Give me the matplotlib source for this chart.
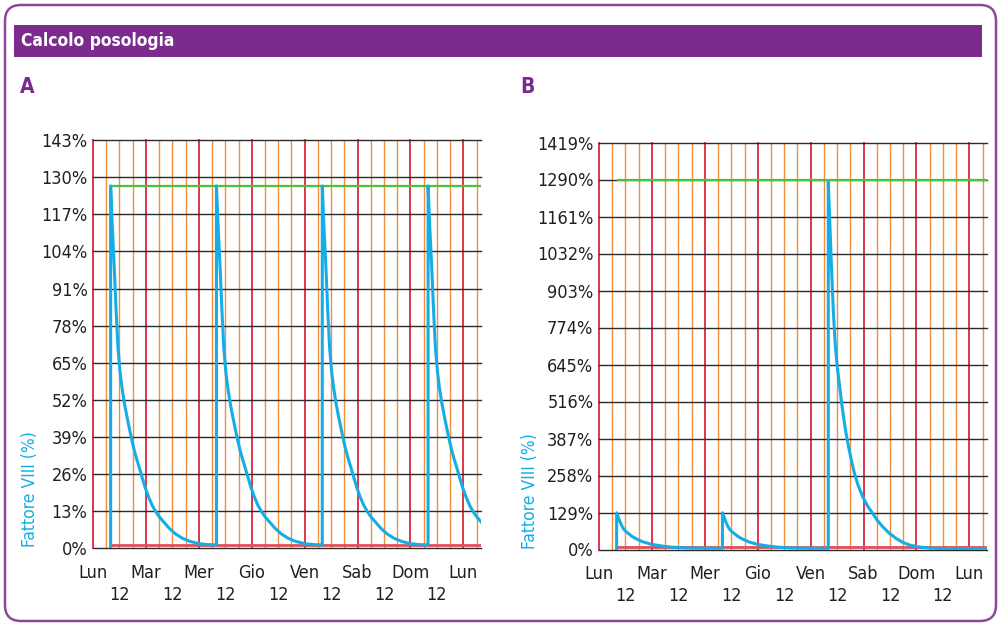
import matplotlib
matplotlib.use("Agg")
import matplotlib.pyplot as plt
from matplotlib import font_manager as fm
from matplotlib.patches import FancyBboxPatch, Rectangle

# ---- data -------------------------------------------------------------
day_labels = ["Lun", "Mar", "Mer", "Gio", "Ven", "Sab", "Dom", "Lun"]
day_hours = [0, 24, 48, 72, 96, 120, 144, 168]
noon_hours = [12, 36, 60, 84, 108, 132, 156]
noon_label = "12"
x_max_hours = 176
grid_step_hours = 6

a_ticks = [0, 13, 26, 39, 52, 65, 78, 91, 104, 117, 130, 143]
b_ticks = [0, 129, 258, 387, 516, 645, 774, 903, 1032, 1161, 1290, 1419]

# panel A: four equal infusions every 48 h (hours after infusion, % activity)
a_dose_hours = [8, 56, 104, 152]
a_decay_h = [0, 0.8, 1.7, 2.5, 3.35, 4.3, 5.2, 6.2, 7.3, 8.5, 9.6, 10.7, 11.8,
             13.0, 14.3, 15.7, 17.3, 19.0, 20.5, 22.1, 24.0, 26.6, 29.5, 32.6,
             36.0, 40.2, 44.0, 48.0]
a_decay_pct = [127, 112, 97.6, 83, 70, 61.5, 56, 51, 46.5, 42, 38, 34.4, 31.3,
               28.3, 24.8, 21.2, 17.8, 14.8, 12.8, 11.0, 9.3, 7.0, 5.0, 3.5,
               2.4, 1.6, 1.3, 1.2]
a_target_pct = 127
a_threshold_pct = 1.2

# panel B: two small infusions followed by one large one
b_dose_hours = [8, 56, 104]
b_low_decay_h = [0, 0.8, 1.5, 2.3, 3.2, 4.1, 5.0, 6.9, 9.2, 11.8, 15.6, 20.1,
                 24.6, 30.7, 36.7, 42.0, 48.0]
b_low_decay_pct = [128, 112, 97, 83, 71, 63.5, 58, 46, 36, 27, 18.5, 12.6,
                   8.5, 5.5, 4.5, 4.2, 4.0]
b_high_decay_h = [0, 0.8, 1.5, 2.3, 3.2, 4.1, 5.0, 5.9, 6.9, 8.0, 9.2, 10.5,
                  11.8, 13.6, 15.6, 17.8, 20.1, 22.3, 24.6, 27.5, 30.7, 33.5,
                  36.7, 41.0, 45.8, 50.0, 56.0, 64.0, 72.0]
b_high_decay_pct = [1280, 1120, 974, 830, 710, 635, 580, 520, 463, 408, 358,
                    310, 268, 222, 184, 152, 126, 101, 80, 58, 39, 26, 16, 9,
                    5, 3.5, 3, 2.5, 2]
b_target_pct = 1288
b_threshold_pct = 10

# ---- style ------------------------------------------------------------
PURPLE = "#7b2a8e"
BLUE = "#14ade6"
RED = "#d9283a"
ORANGE = "#f28226"
GREEN = "#4cc23c"
TEXT = "#231f20"

_cond = fm.findfont(fm.FontProperties(family="DejaVu Sans", stretch="condensed"))
if "Condensed" in _cond:
    plt.rcParams["font.family"] = ["DejaVu Sans"]
    plt.rcParams["font.stretch"] = "condensed"
else:
    plt.rcParams["font.family"] = ["Liberation Sans", "DejaVu Sans"]

W, H = 999, 627
fig = plt.figure(figsize=(W / 100, H / 100), dpi=100)
fig.patch.set_facecolor("white")

# pixel-space layer for the frame, header and panel letters
bg = fig.add_axes([0, 0, 1, 1], zorder=0)
bg.set_xlim(0, W)
bg.set_ylim(H, 0)
bg.axis("off")
bg.add_patch(FancyBboxPatch((5, 5), 991, 616,
                            boxstyle="round,pad=0,rounding_size=16",
                            fc="none", ec="#8d4a9d", lw=1.8))
bg.add_patch(Rectangle((14, 25), 968, 31.5, fc=PURPLE, ec="none"))
bg.text(21, 41, "Calcolo posologia", color="white", fontsize=12.5,
        fontweight="bold", va="center", ha="left")
bg.text(20, 87, "A", color=PURPLE, fontsize=15, fontweight="bold", va="center")
bg.text(520, 87, "B", color=PURPLE, fontsize=15, fontweight="bold", va="center")
bg.text(30, 489, "Fattore VIII (%)", color=BLUE, fontsize=12.5,
        rotation=90, ha="center", va="center")
bg.text(530, 491, "Fattore VIII (%)", color=BLUE, fontsize=12.5,
        rotation=90, ha="center", va="center")


def build_curve(doses, profiles):
    xs, ys = [doses[0]], [0.0]
    for d, (ph, pv) in zip(doses, profiles):
        for h, v in zip(ph, pv):
            xs.append(d + h)
            ys.append(v)
    return xs, ys


def draw_panel(rect, ticks, doses, profiles, target, threshold):
    ax = fig.add_axes(rect, zorder=1)
    ax.set_facecolor("none")
    ax.set_xlim(0, x_max_hours)
    ax.set_ylim(ticks[0], ticks[-1])
    for s in ax.spines.values():
        s.set_visible(False)

    for h in range(0, x_max_hours, grid_step_hours):
        if h % 24 == 0:
            ax.axvline(h, color=RED, lw=1.3, zorder=1, clip_on=False)
        else:
            ax.axvline(h, color=ORANGE, lw=1.0, zorder=1, alpha=0.9)
    for t in ticks:
        ax.axhline(t, color="#2b2b2b", lw=1.0, zorder=2, clip_on=False)

    ax.plot([doses[0], x_max_hours], [threshold, threshold], color="#e0505a",
            lw=2.0, zorder=3, solid_capstyle="butt")
    ax.plot([doses[0], x_max_hours], [target, target], color=GREEN,
            lw=1.6, zorder=3, solid_capstyle="butt")

    xs, ys = build_curve(doses, profiles)
    ax.plot(xs, ys, color=BLUE, lw=2.2, zorder=4, solid_joinstyle="round")

    ax.set_yticks(ticks)
    ax.set_yticklabels([f"{t}%" for t in ticks])
    ax.set_xticks(day_hours)
    ax.set_xticklabels(day_labels)
    ax.set_xticks(noon_hours, minor=True)
    ax.set_xticklabels([noon_label] * len(noon_hours), minor=True)
    ax.tick_params(axis="y", length=0, pad=4, labelsize=13, labelcolor=TEXT)
    ax.tick_params(axis="x", which="major", length=0, pad=11, labelsize=13,
                   labelcolor=TEXT)
    ax.tick_params(axis="x", which="minor", length=0, pad=27, labelsize=13,
                   labelcolor=TEXT)
    return ax


draw_panel([93 / W, 1 - 548.3 / H, 388 / W, 408.1 / H], a_ticks, a_dose_hours,
           [(a_decay_h, a_decay_pct)] * len(a_dose_hours),
           a_target_pct, a_threshold_pct)
draw_panel([599 / W, 1 - 549.5 / H, 388 / W, 407 / H], b_ticks, b_dose_hours,
           [(b_low_decay_h, b_low_decay_pct), (b_low_decay_h, b_low_decay_pct),
            (b_high_decay_h, b_high_decay_pct)],
           b_target_pct, b_threshold_pct)

fig.savefig("out.png", dpi=100)
